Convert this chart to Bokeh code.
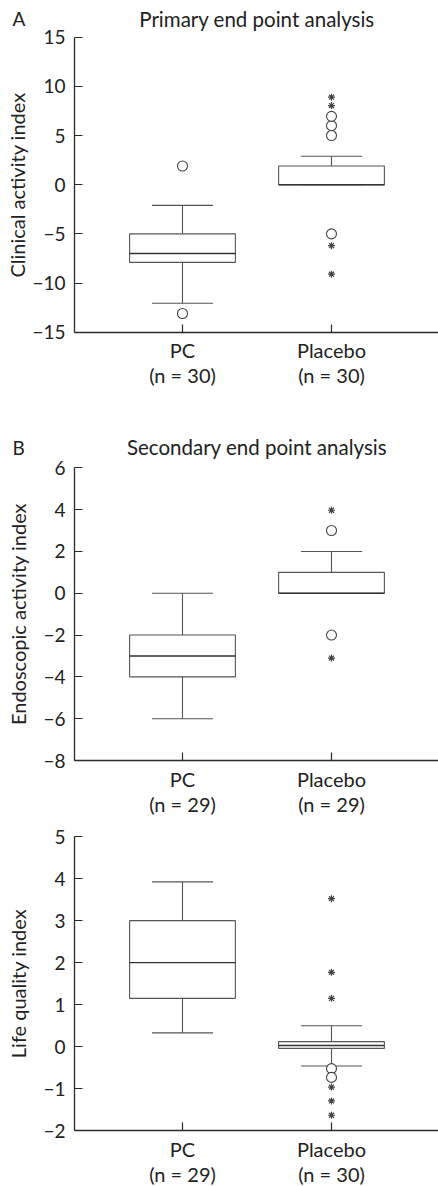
from bokeh.plotting import figure
from bokeh.layouts import column
from bokeh.models import Range1d, FixedTicker, Label
from bokeh.embed import file_html
from bokeh.resources import INLINE

FONT = "Lato"
groups = ["PC", "Placebo"]

# ---------------- Panel A ----------------
A_letter = "A"
A_title = "Primary end point analysis"
A_ylabel = "Clinical activity index"
A_n = [30, 30]
A_low = [-12.05, 0.0]
A_q1 = [-7.9, 0.0]
A_med = [-7.0, 0.0]
A_q3 = [-5.0, 1.9]
A_high = [-2.1, 2.9]
A_circle_group = ["PC", "PC", "Placebo", "Placebo", "Placebo", "Placebo"]
A_circle_val = [1.9, -13.1, 5.0, 6.0, 6.95, -5.0]
A_star_group = ["Placebo", "Placebo", "Placebo", "Placebo"]
A_star_val = [8.05, 8.9, -6.2, -9.1]
A_yticks = [-15, -10, -5, 0, 5, 10, 15]

# ---------------- Panel B ----------------
B_letter = "B"
B_title = "Secondary end point analysis"
B_ylabel = "Endoscopic activity index"
B_n = [29, 29]
B_low = [-6.0, 0.0]
B_q1 = [-4.0, 0.0]
B_med = [-3.0, 0.0]
B_q3 = [-2.0, 1.0]
B_high = [0.0, 2.0]
B_circle_group = ["Placebo", "Placebo"]
B_circle_val = [3.0, -2.0]
B_star_group = ["Placebo", "Placebo"]
B_star_val = [3.97, -3.1]
B_yticks = [-8, -6, -4, -2, 0, 2, 4, 6]

# ---------------- Panel C ----------------
C_ylabel = "Life quality index"
C_n = [29, 30]
C_low = [0.33, -0.46]
C_q1 = [1.15, -0.04]
C_med = [2.0, 0.03]
C_q3 = [3.0, 0.12]
C_high = [3.92, 0.5]
C_circle_group = ["Placebo", "Placebo"]
C_circle_val = [-0.52, -0.73]
C_star_group = ["Placebo"] * 6
C_star_val = [3.52, 1.77, 1.15, -0.96, -1.29, -1.63]
C_yticks = [-2, -1, 0, 1, 2, 3, 4, 5]

# ---------------- layout / style constants ----------------
W = 438
PX_PC, PX_PLACEBO, PX_YAXIS = 182.0, 331.0, 74.0
KX = PX_PLACEBO - PX_PC
X_RANGE = (1 - PX_PC / KX, 2 + (W - PX_PLACEBO) / KX)
X_AXIS_LOC = 1 - (PX_PC - PX_YAXIS) / KX

AXIS_COL = "#2b2b2b"
BOX_COL = "#555555"
TEXT_COL = "#222222"
BOX_W = 0.71
CAP_W = 0.41


def y_range_for(fig_top, fig_bot, v_hi, px_hi, v_lo, px_lo):
    k = (px_lo - px_hi) / (v_hi - v_lo)
    return (v_lo - (fig_bot - px_lo) / k, v_hi + (px_hi - fig_top) / k)


def make_panel(fig_top, fig_bot, calib, yticks, ylabel, n, low, q1, med, q3, high,
               cg, cv, sg, sv, lab_standoff, title=None, letter=None, title_px=None):
    yr = y_range_for(fig_top, fig_bot, *calib)
    p = figure(width=W, height=int(round(fig_bot - fig_top)), output_backend="svg",
               toolbar_location=None, title=None,
               x_range=Range1d(*X_RANGE), y_range=Range1d(*yr), min_border=0)
    p.outline_line_color = None
    p.grid.visible = False
    p.background_fill_color = "white"
    p.border_fill_color = "white"

    xs = [i + 1 for i in range(len(groups))]
    pos = dict(zip(groups, xs))

    # whiskers
    p.segment(x0=xs, y0=q3, x1=xs, y1=high, line_color=BOX_COL, line_width=1.1)
    p.segment(x0=xs, y0=q1, x1=xs, y1=low, line_color=BOX_COL, line_width=1.1)
    p.segment(x0=[x - CAP_W / 2 for x in xs], y0=high, x1=[x + CAP_W / 2 for x in xs], y1=high,
              line_color=BOX_COL, line_width=1.1)
    p.segment(x0=[x - CAP_W / 2 for x in xs], y0=low, x1=[x + CAP_W / 2 for x in xs], y1=low,
              line_color=BOX_COL, line_width=1.1)
    # boxes
    p.quad(left=[x - BOX_W / 2 for x in xs], right=[x + BOX_W / 2 for x in xs], bottom=q1, top=q3,
           fill_color="white", line_color=BOX_COL, line_width=1.1)
    p.segment(x0=[x - BOX_W / 2 for x in xs], y0=med, x1=[x + BOX_W / 2 for x in xs], y1=med,
              line_color="#333333", line_width=1.4)
    # outliers
    if cv:
        p.scatter(x=[pos[g] for g in cg], y=cv, marker="circle", size=10,
                  fill_color="white", line_color="#444444", line_width=1.1)
    if sv:
        p.scatter(x=[pos[g] for g in sg], y=sv, marker="asterisk", size=7,
                  line_color="#444444", line_width=1.2)

    # axes (fixed inside the full-canvas frame)
    for ax in (p.xaxis[0], p.yaxis[0]):
        ax.axis_line_color = AXIS_COL
        ax.axis_line_width = 1.3
        ax.major_tick_line_color = AXIS_COL
        ax.major_tick_line_width = 1.2
        ax.major_tick_in = 8
        ax.major_tick_out = 0
        ax.minor_tick_line_color = None
        ax.major_label_text_font = FONT
        ax.major_label_text_color = TEXT_COL

    p.xaxis.fixed_location = yticks[0]
    p.xaxis.bounds = (X_AXIS_LOC, X_RANGE[1])
    p.xaxis.ticker = FixedTicker(ticks=xs)
    p.xaxis.major_label_overrides = {x: f"{g}\n(n = {k})" for x, g, k in zip(xs, groups, n)}
    p.xaxis.major_label_text_font_size = "20px"
    p.xaxis.major_label_text_line_height = 1.05
    p.xaxis.major_label_standoff = 6

    p.yaxis.fixed_location = X_AXIS_LOC
    p.yaxis.bounds = (yticks[0], yticks[-1])
    p.yaxis.ticker = FixedTicker(ticks=yticks)
    p.yaxis.major_label_overrides = {t: str(t).replace("-", "\u2212") for t in yticks}
    p.yaxis.major_label_text_font_size = "19px"
    p.yaxis.major_label_standoff = 9
    p.yaxis.axis_label = ylabel
    p.yaxis.axis_label_text_font = FONT
    p.yaxis.axis_label_text_font_size = "20px"
    p.yaxis.axis_label_text_font_style = "normal"
    p.yaxis.axis_label_text_color = TEXT_COL
    p.yaxis.axis_label_standoff = lab_standoff

    if title is not None:
        k = (calib[3] - calib[1]) / (calib[0] - calib[2])
        ty = calib[0] + (calib[1] - title_px) / k
        p.add_layout(Label(x=1.5, y=ty, text=title, text_align="center",
                           text_baseline="middle", text_font=FONT, text_font_size="20.5px",
                           text_color=TEXT_COL))
        p.add_layout(Label(x=1 - (PX_PC - 12) / KX, y=ty, text=letter, text_align="left",
                           text_baseline="middle", text_font=FONT, text_font_size="19px",
                           text_color=TEXT_COL))
    return p


pA = make_panel(0, 400, (15, 36.7, -15, 331.7), A_yticks, A_ylabel, A_n,
                A_low, A_q1, A_med, A_q3, A_high,
                A_circle_group, A_circle_val, A_star_group, A_star_val, 0,
                title=A_title, letter=A_letter, title_px=18.0)
pB = make_panel(400, 824, (6, 467.3, -8, 760.0), B_yticks, B_ylabel, B_n,
                B_low, B_q1, B_med, B_q3, B_high,
                B_circle_group, B_circle_val, B_star_group, B_star_val, 10,
                title=B_title, letter=B_letter, title_px=446.7)
pC = make_panel(824, 1186, (5, 836.0, -2, 1130.3), C_yticks, C_ylabel, C_n,
                C_low, C_q1, C_med, C_q3, C_high,
                C_circle_group, C_circle_val, C_star_group, C_star_val, 10)

layout = column(pA, pB, pC, spacing=0)
open("out.html", "w").write(file_html(layout, INLINE))
